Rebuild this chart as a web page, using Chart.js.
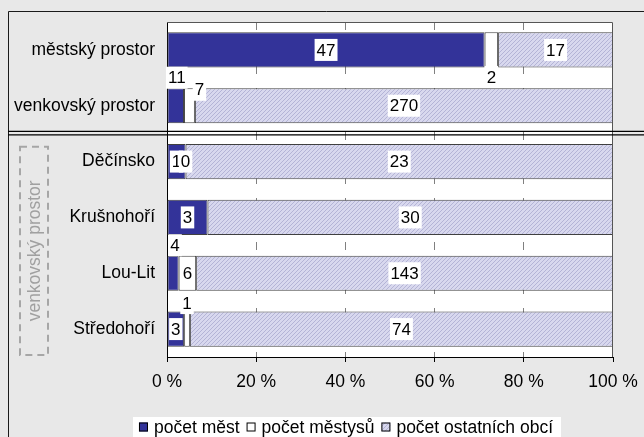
<!DOCTYPE html>
<html>
<head>
<meta charset="utf-8">
<script src="https://cdn.jsdelivr.net/npm/chart.js@4"></script>
<style>
  html, body { margin: 0; padding: 0; background: #e8e8e8; }
  #wrap { width: 644px; height: 437px; }
</style>
</head>
<body>
<div id="wrap"><canvas id="graf"></canvas></div>
<script>
// hodnoty
var kategorie = ['městský prostor', 'venkovský prostor', 'Děčínsko', 'Krušnohoří', 'Lou-Lit', 'Středohoří'];
var mesta = [47, 11, 1, 3, 4, 3];
var mestyse = [2, 7, 0, 0, 6, 1];
var ostatniObce = [17, 270, 23, 30, 143, 74];
var nazvyRad = ['počet měst', 'počet městysů', 'počet ostatních obcí'];
var osaX = [0, 20, 40, 60, 80, 100];

var hodnoty = [mesta, mestyse, ostatniObce];
var soucty = kategorie.map(function(k, j) { return mesta[j] + mestyse[j] + ostatniObce[j]; });
function procenta(arr) {
    return arr.map(function(v, j) { return v / soucty[j] * 100; });
}

// popisky posunuté mimo sloupec (řada-kategorie: [dx, dy])
var posunPopisku = { '0-1': [1, -28], '1-0': [0, 27], '1-1': [10, -16], '0-4': [2, -28], '1-5': [0, -26] };
var skrytePopisky = { '1-3': true };

var pismo = '"Liberation Sans", Arial, sans-serif';
Chart.defaults.font.family = pismo;
Chart.defaults.color = '#000';

function srafovani() {
    var p = document.createElement('canvas');
    p.width = 4; p.height = 4;
    var g = p.getContext('2d');
    g.fillStyle = '#d8d8ee';
    g.fillRect(0, 0, 4, 4);
    g.fillStyle = '#b4b4d6';
    for (var k = 0; k < 4; k++) g.fillRect(k, 3 - k, 1, 1);
    return g.createPattern(p, 'repeat');
}
var vyplne = ['#333399', '#ffffff', srafovani()];

var pozadi = {
    id: 'pozadi',
    beforeDraw: function(chart) {
        var c = chart.ctx, a = chart.chartArea;
        c.save();
        c.fillStyle = '#e8e8e8';
        c.fillRect(0, 0, chart.width, chart.height);
        c.strokeStyle = '#1a1a1a';
        c.lineWidth = 1;
        c.beginPath();
        c.moveTo(8.5, chart.height + 2);
        c.lineTo(8.5, 11.5);
        c.lineTo(chart.width + 2, 11.5);
        c.stroke();
        c.fillStyle = '#ffffff';
        c.fillRect(a.left, a.top, a.right - a.left, a.bottom - a.top);
        c.restore();
    }
};

var doplnky = {
    id: 'doplnky',
    afterDatasetsDraw: function(chart) {
        var c = chart.ctx, a = chart.chartArea, y = chart.scales.y;
        c.save();
        // horní a pravý okraj plochy
        c.strokeStyle = '#555';
        c.lineWidth = 1;
        c.beginPath();
        c.moveTo(a.left, a.top + 0.5);
        c.lineTo(a.right - 0.5, a.top + 0.5);
        c.lineTo(a.right - 0.5, a.bottom);
        c.stroke();

        // popisky hodnot
        c.font = '17px ' + pismo;
        c.textAlign = 'center';
        c.textBaseline = 'middle';
        chart.data.datasets.forEach(function(ds, i) {
            chart.getDatasetMeta(i).data.forEach(function(bar, j) {
                var klic = i + '-' + j;
                if (skrytePopisky[klic]) return;
                var txt = String(hodnoty[i][j]);
                var s = posunPopisku[klic] || [0, 0];
                var x = (bar.x + bar.base) / 2 + s[0];
                var yy = bar.y + s[1];
                var w = c.measureText(txt).width;
                c.fillStyle = '#fff';
                c.fillRect(x - w / 2 - 2, yy - 11, w + 4, 22);
                c.fillStyle = '#000';
                c.fillText(txt, x, yy + 1);
            });
        });

        // dvojitá čára mezi městským/venkovským prostorem a okresy
        var hranice = (y.getPixelForValue(1) + y.getPixelForValue(2)) / 2;
        c.strokeStyle = '#000';
        c.lineWidth = 1.3;
        [hranice - 2.3, hranice + 1.2].forEach(function(h) {
            c.beginPath();
            c.moveTo(8, h);
            c.lineTo(chart.width, h);
            c.stroke();
        });

        // čárkovaný rámeček vlevo
        var horni = hranice + 13, dolni = a.bottom - 2;
        c.strokeStyle = '#a6a6a6';
        c.lineWidth = 2;
        c.setLineDash([7, 5]);
        c.strokeRect(20, horni, 28, dolni - horni);
        c.setLineDash([]);
        c.translate(34, (horni + dolni) / 2);
        c.rotate(-Math.PI / 2);
        c.fillStyle = '#a0a0a0';
        c.font = '17.5px ' + pismo;
        c.fillText('venkovský prostor', 0, 1);
        c.restore();

        // legenda
        c.save();
        c.font = '17.5px ' + pismo;
        c.textAlign = 'left';
        c.textBaseline = 'middle';
        var sirky = nazvyRad.map(function(n) { return c.measureText(n).width; });
        var celkem = 0;
        sirky.forEach(function(w, i) { celkem += 15 + w + (i ? 7 : 0); });
        var x0 = 346 - celkem / 2;
        c.fillStyle = '#fff';
        c.fillRect(x0 - 6, 417, celkem + 14, 30);
        var x = x0, ly = 427;
        nazvyRad.forEach(function(n, i) {
            c.fillStyle = vyplne[i];
            c.fillRect(x, ly - 4.5, 9, 9);
            c.strokeStyle = '#000';
            c.lineWidth = 1;
            c.strokeRect(x + 0.5, ly - 4, 8, 8);
            c.fillStyle = '#000';
            c.fillText(n, x + 15, ly + 1);
            x += 15 + sirky[i] + 7;
        });
        c.restore();
    }
};

var datasety = hodnoty.map(function(arr, i) {
    return {
        label: nazvyRad[i],
        data: procenta(arr),
        backgroundColor: vyplne[i],
        borderColor: '#404040',
        borderWidth: 1,
        borderSkipped: false,
        categoryPercentage: 1,
        barPercentage: 0.63
    };
});

new Chart(document.getElementById('graf'), {
    type: 'bar',
    data: { labels: kategorie, datasets: datasety },
    options: {
        indexAxis: 'y',
        responsive: true,
        maintainAspectRatio: false,
        animation: false,
        events: [],
        layout: { padding: { left: 0, top: 22, right: 31, bottom: 0 } },
        plugins: { legend: { display: false }, tooltip: { enabled: false } },
        scales: {
            x: {
                stacked: true,
                min: 0,
                max: 100,
                afterBuildTicks: function(scale) {
                    scale.ticks = osaX.map(function(v) { return { value: v }; });
                },
                afterFit: function(scale) {
                    scale.height = 80;
                    scale.paddingLeft = 0;
                    scale.paddingRight = 0;
                },
                ticks: {
                    maxRotation: 0,
                    padding: 10,
                    font: { size: 17.5 },
                    callback: function(v) { return v + ' %'; }
                },
                grid: {
                    color: function(ctx) {
                        var v = ctx.tick ? ctx.tick.value : 0;
                        return (v === 0 || v === 100) ? 'rgba(0,0,0,0)' : '#808080';
                    },
                    tickColor: '#000',
                    tickLength: 5
                },
                border: { color: '#000', width: 1, dash: [8, 14] }
            },
            y: {
                stacked: true,
                afterFit: function(scale) {
                    scale.width = 167;
                    scale.paddingTop = 0;
                    scale.paddingBottom = 0;
                },
                ticks: { padding: 12, font: { size: 17.5 } },
                grid: { display: false, drawTicks: false },
                border: { color: '#000', width: 1 }
            }
        }
    },
    plugins: [pozadi, doplnky]
});
</script>
</body>
</html>
